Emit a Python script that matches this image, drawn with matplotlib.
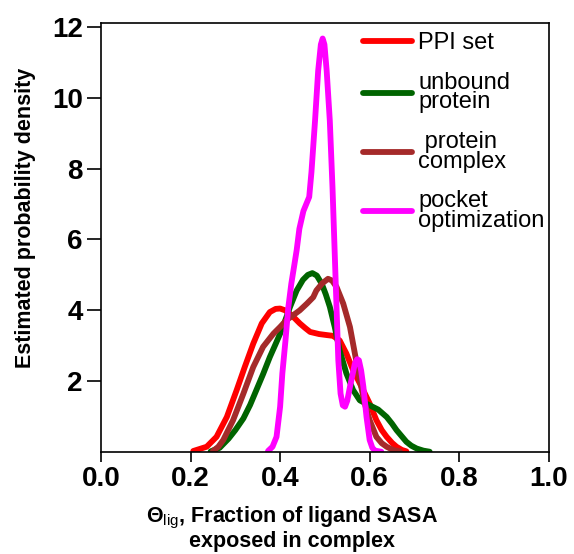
import matplotlib
matplotlib.use("Agg")
import matplotlib.pyplot as plt

plt.rcParams['font.family'] = ['Liberation Sans', 'DejaVu Sans']
plt.rcParams['mathtext.fontset'] = 'custom'
plt.rcParams['mathtext.rm'] = 'Liberation Sans'
plt.rcParams['mathtext.bf'] = 'Liberation Sans:bold'

# curves (x = fraction exposed, y = density)
ppi_x = [0.206, 0.236, 0.258, 0.281, 0.303, 0.321, 0.340, 0.359, 0.377, 0.390,
         0.400, 0.411, 0.422, 0.433, 0.444, 0.456, 0.467, 0.487, 0.505, 0.518,
         0.533, 0.548, 0.563, 0.582, 0.600, 0.615, 0.627, 0.638, 0.650, 0.660,
         0.672, 0.682]
ppi_y = [0.03, 0.15, 0.43, 0.99, 1.75, 2.40, 3.06, 3.63, 3.95, 4.04,
         4.05, 4.00, 3.90, 3.77, 3.63, 3.50, 3.39, 3.33, 3.30, 3.28,
         3.15, 2.78, 2.31, 1.84, 1.37, 0.90, 0.62, 0.43, 0.26, 0.15,
         0.06, 0.02]

unb_x = [0.245, 0.265, 0.285, 0.300, 0.318, 0.333, 0.347, 0.362, 0.377, 0.390,
         0.400, 0.411, 0.422, 0.437, 0.451, 0.462, 0.472, 0.482, 0.493, 0.502,
         0.511, 0.522, 0.533, 0.548, 0.563, 0.578, 0.590, 0.600, 0.619, 0.638,
         0.650, 0.660, 0.672, 0.682, 0.693, 0.705, 0.720, 0.734]
unb_y = [0.02, 0.12, 0.38, 0.62, 0.95, 1.33, 1.75, 2.20, 2.68, 3.05,
         3.34, 3.70, 4.09, 4.56, 4.86, 5.00, 5.05, 4.98, 4.75, 4.45,
         4.10, 3.53, 2.87, 2.22, 1.75, 1.46, 1.38, 1.32, 1.20, 0.99,
         0.80, 0.62, 0.44, 0.29, 0.18, 0.10, 0.04, 0.01]

cpx_x = [0.250, 0.262, 0.273, 0.295, 0.318, 0.340, 0.362, 0.385, 0.400, 0.414,
         0.430, 0.444, 0.460, 0.474, 0.481, 0.494, 0.507, 0.516, 0.526, 0.541,
         0.556, 0.567, 0.578, 0.589, 0.600, 0.615, 0.627, 0.638, 0.652, 0.667]
cpx_y = [0.03, 0.15, 0.34, 0.90, 1.65, 2.40, 2.97, 3.34, 3.53, 3.72,
         3.87, 4.00, 4.19, 4.37, 4.56, 4.76, 4.89, 4.84, 4.66, 4.19,
         3.53, 2.78, 2.03, 1.37, 0.90, 0.43, 0.25, 0.15, 0.06, 0.02]

pkt_x = [0.373, 0.383, 0.392, 0.400, 0.405, 0.412, 0.418, 0.425, 0.432, 0.437,
         0.443, 0.452, 0.465, 0.470, 0.478, 0.485, 0.491, 0.495, 0.499, 0.504,
         0.511, 0.517, 0.522, 0.527, 0.530, 0.535, 0.540, 0.545, 0.550, 0.556,
         0.567, 0.572, 0.576, 0.581, 0.586, 0.593, 0.600, 0.606, 0.612, 0.626]
pkt_y = [0.03, 0.15, 0.43, 1.28, 2.22, 3.15, 4.05, 4.75, 5.30, 5.70,
         6.30, 6.80, 7.20, 7.90, 9.35, 10.76, 11.50, 11.67, 11.50, 10.76,
         9.35, 7.47, 5.60, 3.72, 2.59, 1.65, 1.32, 1.28, 1.45, 1.84,
         2.50, 2.62, 2.59, 2.30, 1.84, 0.99, 0.34, 0.12, 0.04, 0.01]

labels = ['PPI set', 'unbound\nprotein', ' protein\ncomplex', 'pocket\noptimization']
colors = ['#ff0000', '#006400', '#a52a2a', '#ff00ff']

fig = plt.figure(figsize=(5.74, 5.54), dpi=100)
ax = fig.add_axes([0.176, 0.184, 0.780, 0.774])

series = [(ppi_x, ppi_y), (unb_x, unb_y), (cpx_x, cpx_y), (pkt_x, pkt_y)]
for (xs, ys), lab, col in zip(series, labels, colors):
    ax.plot(xs, ys, color=col, lw=4.2, label=lab,
            solid_capstyle='round', solid_joinstyle='round')

ax.set_xlim(0, 1.0)
ax.set_ylim(0, 12.1)
ax.set_xticks([0.0, 0.2, 0.4, 0.6, 0.8, 1.0])
ax.set_xticklabels(['0.0', '0.2', '0.4', '0.6', '0.8', '1.0'])
ax.set_yticks([2, 4, 6, 8, 10, 12])

for lab in ax.get_xticklabels() + ax.get_yticklabels():
    lab.set_fontsize(20)
    lab.set_fontweight('bold')
ax.tick_params(axis='x', direction='out', length=7, width=1.2, pad=3)
ax.tick_params(axis='y', direction='out', length=10, width=1.2, pad=3)
for sp in ax.spines.values():
    sp.set_linewidth(1.2)

ax.set_ylabel('Estimated probability density', fontsize=15.5, fontweight='bold')
ax.yaxis.set_label_coords(-0.145, 0.545, transform=ax.transAxes)
ax.set_xlabel(r'$\mathbf{\Theta}_{\mathrm{lig}}$, Fraction of ligand SASA' + '\nexposed in complex',
              fontsize=15.5, fontweight='bold', linespacing=1.0)
ax.xaxis.set_label_coords(0.426, -0.124, transform=ax.transAxes)
ax.xaxis.label.set_verticalalignment('top')

leg = ax.legend(loc='upper right', bbox_to_anchor=(1.022, 1.012), frameon=False,
                fontsize=17, handlelength=2.1, handletextpad=0.25,
                labelspacing=0.75, borderaxespad=0.2)
for t in leg.get_texts():
    t.set_linespacing(0.85)
for h in leg.get_lines():
    h.set_linewidth(4.2)

fig.savefig('out.png', dpi=100)
